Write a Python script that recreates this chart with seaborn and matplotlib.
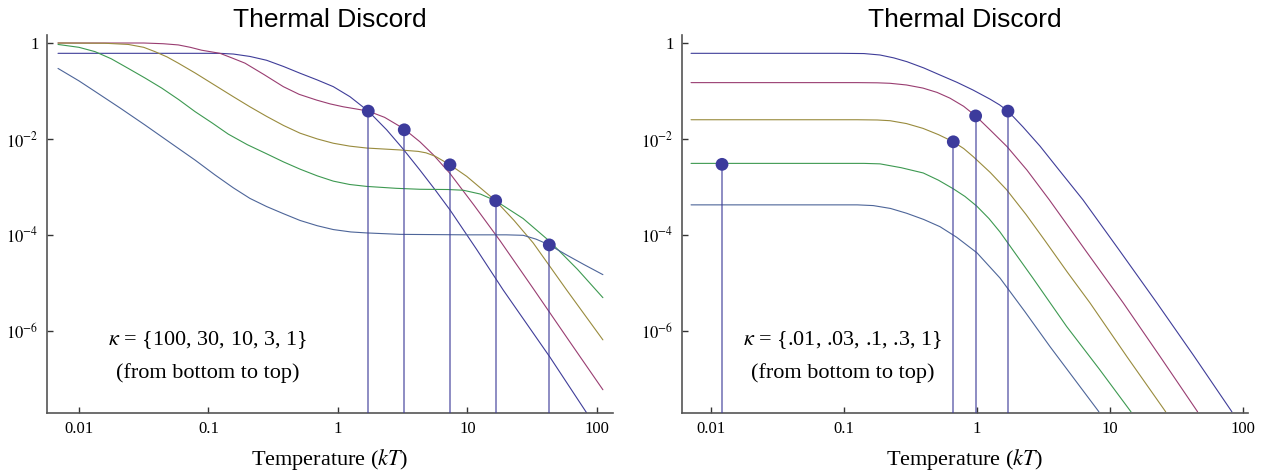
import numpy as np
import pandas as pd
import matplotlib
matplotlib.use("Agg")
import matplotlib.pyplot as plt
import seaborn as sns

# --- data (log10 of temperature, log10 of discord) ---
# left panel, kappa = 1, 3, 10, 30, 100 (top plateau first)
left_k1_logT = [-2.162, -1.0, -0.9, -0.808, -0.68, -0.551, -0.42, -0.293, -0.16, -0.036, 0.093, 0.234,
                0.376, 0.5, 0.633, 0.75, 0.865, 1.07, 1.276, 1.637, 1.92]
left_k1_logD = [-0.215, -0.215, -0.217, -0.23, -0.28, -0.36, -0.49, -0.63, -0.77, -0.91, -1.12, -1.42,
                -1.81, -2.2, -2.65, -3.06, -3.48, -4.3, -5.15, -6.55, -7.71]
left_k3_logT = [-2.162, -1.5, -1.35, -1.233, -1.14, -1.053, -0.911, -0.82, -0.718, -0.57, -0.422, -0.3,
                -0.165, -0.06, 0.041, 0.14, 0.234, 0.36, 0.479, 0.56, 0.633, 0.736, 0.865, 1.05, 1.251,
                1.508, 1.78, 2.046]
left_k3_logD = [0.0, 0.0, -0.015, -0.04, -0.09, -0.15, -0.215, -0.31, -0.42, -0.66, -0.91, -1.07,
                -1.19, -1.27, -1.33, -1.375, -1.42, -1.55, -1.74, -1.9, -2.06, -2.33, -2.72, -3.38, -4.12,
                -5.12, -6.19, -7.23]
left_k10_logT = [-2.162, -1.8, -1.619, -1.5, -1.413, -1.32, -1.233, -1.1, -0.975, -0.808, -0.68, -0.551,
                 -0.42, -0.293, -0.16, -0.036, 0.09, 0.221, 0.479, 0.62, 0.68, 0.75, 0.865, 0.994, 1.218,
                 1.36, 1.508, 1.766, 2.046]
left_k10_logD = [0.0, -0.005, -0.03, -0.09, -0.18, -0.29, -0.42, -0.63, -0.84, -1.12, -1.33, -1.53,
                 -1.72, -1.88, -2.0, -2.09, -2.15, -2.19, -2.23, -2.26, -2.29, -2.36, -2.54, -2.78, -3.29,
                 -3.7, -4.17, -5.15, -6.19]
left_k30_logT = [-2.162, -2.0, -1.876, -1.75, -1.619, -1.49, -1.361, -1.23, -1.104, -0.97, -0.847, -0.7,
                 -0.551, -0.42, -0.293, -0.16, -0.036, 0.09, 0.221, 0.45, 0.633, 0.85, 0.968, 1.1, 1.218,
                 1.43, 1.637, 1.85, 2.046]
left_k30_logD = [-0.03, -0.09, -0.18, -0.33, -0.53, -0.73, -0.94, -1.18, -1.43, -1.67, -1.90, -2.12,
                 -2.31, -2.48, -2.63, -2.77, -2.88, -2.95, -2.99, -3.03, -3.05, -3.055, -3.07, -3.15, -3.29,
                 -3.66, -4.14, -4.72, -5.31]
left_k100_logT = [-2.162, -2.0, -1.876, -1.68, -1.49, -1.3, -1.104, -0.95, -0.808, -0.68, -0.551, -0.42,
                  -0.293, -0.16, -0.036, 0.1, 0.221, 0.479, 1.0, 1.3, 1.431, 1.53, 1.632, 1.766, 1.9, 2.046]
left_k100_logD = [-0.53, -0.79, -1.01, -1.36, -1.71, -2.07, -2.44, -2.75, -3.02, -3.24, -3.41, -3.56,
                  -3.70, -3.81, -3.89, -3.94, -3.96, -3.99, -4.0, -4.0, -4.01, -4.09, -4.21, -4.42, -4.62, -4.83]
left_dots_logT = [0.234, 0.512, 0.865, 1.218, 1.632]
left_dots_logD = [-1.42, -1.81, -2.54, -3.29, -4.21]

# right panel, kappa = 1, .3, .1, .03, .01 (top plateau first)
right_k1_logT = [-2.15, -1.03, -0.85, -0.729, -0.626, -0.526, -0.4, -0.278, -0.15, -0.030, 0.098, 0.17,
                 0.233, 0.346, 0.474, 0.609, 0.797, 1.07, 1.353, 1.63, 1.917]
right_k1_logD = [-0.215, -0.215, -0.22, -0.25, -0.31, -0.39, -0.52, -0.667, -0.82, -0.98, -1.17, -1.29,
                 -1.42, -1.75, -2.15, -2.62, -3.27, -4.32, -5.42, -6.52, -7.69]
right_k03_logT = [-2.15, -0.9, -0.75, -0.654, -0.53, -0.406, -0.3, -0.203, -0.1, -0.01, 0.098, 0.226,
                  0.376, 0.544, 0.82, 1.10, 1.38, 1.659]
right_k03_logD = [-0.826, -0.826, -0.83, -0.84, -0.875, -0.94, -1.03, -1.15, -1.32, -1.52, -1.81, -2.16,
                  -2.65, -3.27, -4.34, -5.42, -6.55, -7.69]
right_k01_logT = [-2.15, -0.9, -0.75, -0.654, -0.53, -0.406, -0.29, -0.178, -0.1, -0.028, 0.1, 0.223,
                  0.37, 0.511, 0.68, 0.85, 1.13, 1.419]
right_k01_logD = [-1.60, -1.60, -1.605, -1.62, -1.68, -1.78, -1.91, -2.06, -2.2, -2.37, -2.7, -3.06,
                  -3.58, -4.12, -4.78, -5.42, -6.55, -7.69]
right_k003_logT = [-2.15, -0.85, -0.729, -0.57, -0.404, -0.29, -0.178, -0.09, -0.002, 0.09, 0.173, 0.42,
                   0.674, 0.92, 1.158]
right_k003_logD = [-2.51, -2.51, -2.52, -2.6, -2.71, -2.86, -3.04, -3.2, -3.40, -3.66, -3.94, -4.9,
                   -5.91, -6.8, -7.69]
right_k001_logT = [-2.15, -0.9, -0.78, -0.65, -0.529, -0.4, -0.278, -0.153, 0.0, 0.173, 0.36, 0.549, 0.917]
right_k001_logD = [-3.375, -3.375, -3.39, -3.45, -3.55, -3.68, -3.83, -4.05, -4.375, -4.90, -5.6, -6.33, -7.69]
right_dots_logT = [-1.917, -0.178, -0.01, 0.233]
right_dots_logD = [-2.53, -2.06, -1.52, -1.42]

x_ticks = [0.01, 0.1, 1, 10, 100]
x_ticklabels = ["0.01", "0.1", "1", "10", "100"]
y_ticks = [1, 1e-2, 1e-4, 1e-6]
y_ticklabels = ["1", r"$10^{-2}$", r"$10^{-4}$", r"$10^{-6}$"]

# Mathematica default plot colours
colors = ["#3f3d99", "#993d71", "#998b3d", "#3d9951", "#4d6599"]

sns.set_style("white")
plt.rcParams["font.family"] = ["Liberation Serif", "DejaVu Serif"]
plt.rcParams["mathtext.fontset"] = "stix"
plt.rcParams["text.color"] = "black"
plt.rcParams["axes.labelcolor"] = "black"
plt.rcParams["xtick.color"] = "#333333"
plt.rcParams["ytick.color"] = "#333333"


def make_frame(curves):
    rows = []
    for i, (lt, ld) in enumerate(curves):
        rows.append(pd.DataFrame({"T": 10 ** np.array(lt), "D": 10 ** np.array(ld), "curve": i}))
    return pd.concat(rows, ignore_index=True)


left_df = make_frame([(left_k1_logT, left_k1_logD), (left_k3_logT, left_k3_logD),
                      (left_k10_logT, left_k10_logD), (left_k30_logT, left_k30_logD),
                      (left_k100_logT, left_k100_logD)])
right_df = make_frame([(right_k1_logT, right_k1_logD), (right_k03_logT, right_k03_logD),
                       (right_k01_logT, right_k01_logD), (right_k003_logT, right_k003_logD),
                       (right_k001_logT, right_k001_logD)])

fig = plt.figure(figsize=(12.66, 4.71), dpi=100)
ax1 = fig.add_axes([47 / 1266, 58 / 471, 566 / 1266, 378 / 471])
ax2 = fig.add_axes([682 / 1266, 58 / 471, 566 / 1266, 378 / 471])

panels = [
    (ax1, left_df, left_dots_logT, left_dots_logD, (10 ** -2.247, 10 ** 2.124),
     r"$\kappa$ = {100, 30, 10, 3, 1}"),
    (ax2, right_df, right_dots_logT, right_dots_logD, (10 ** -2.218, 10 ** 2.038),
     r"$\kappa$ = {.01, .03, .1, .3, 1}"),
]

ymin, ymax = 10 ** -7.715, 10 ** 0.167

for ax, df, dlt, dld, xlim, note in panels:
    ax.set_xscale("log")
    ax.set_yscale("log")
    sns.lineplot(data=df, x="T", y="D", hue="curve", palette=colors, estimator=None,
                 sort=False, linewidth=0.8, legend=False, ax=ax)
    dx = 10 ** np.array(dlt)
    dy = 10 ** np.array(dld)
    ax.vlines(dx, ymin, dy, color="#3f3d99", alpha=0.75, linewidth=1.1, zorder=3)
    sns.scatterplot(x=dx, y=dy, color="#3c3b9c", s=85, edgecolor="none", ax=ax, zorder=4)

    ax.set_xlim(*xlim)
    ax.set_ylim(ymin, ymax)
    ax.set_xticks(x_ticks)
    ax.set_xticklabels(x_ticklabels)
    ax.set_yticks(y_ticks)
    ax.set_yticklabels(y_ticklabels)
    ax.minorticks_off()
    ax.tick_params(bottom=True, left=True, direction="in", length=4.5, width=1,
                   labelsize=12, labelcolor="black", pad=6)

    for side in ["top", "right"]:
        ax.spines[side].set_visible(False)
    for side in ["left", "bottom"]:
        ax.spines[side].set_color("#555555")
        ax.spines[side].set_linewidth(1.2)

    ax.set_ylabel("")
    ax.set_xlabel(r"Temperature ($kT$)", fontsize=16, labelpad=7)
    ax.set_title("Thermal Discord", fontsize=19, pad=6, color="black",
                 fontfamily=["Liberation Sans", "DejaVu Sans"])
    ax.text(0.284, 0.180, note, transform=ax.transAxes, ha="center", va="baseline", fontsize=16)
    ax.text(0.284, 0.093, "(from bottom to top)", transform=ax.transAxes, ha="center",
            va="baseline", fontsize=16)

fig.savefig("out.png", dpi=100)
